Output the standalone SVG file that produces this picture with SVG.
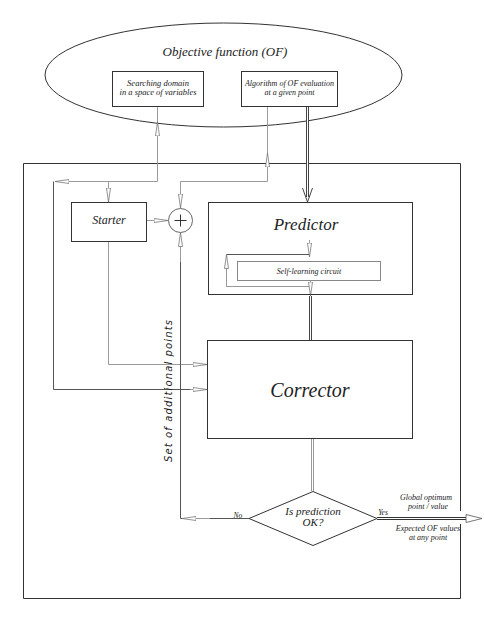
<svg xmlns="http://www.w3.org/2000/svg" width="484" height="618" viewBox="0 0 484 618">
  <defs>
    <style>
      .t { font-family: "Liberation Serif", "Times New Roman", serif; font-style: italic; fill: #222; text-anchor: middle; }
      .box { fill: #fff; stroke: #333; stroke-width: 1; }
      .g { fill: none; stroke: #9a9a9a; stroke-width: 1; }
      .d { fill: none; stroke: #555; stroke-width: 1; }
      .dbl { fill: none; stroke: #444; stroke-width: 3; }
      .dbli { fill: none; stroke: #fff; stroke-width: 1; }
    </style>
    <!-- slim open arrowhead used on the thin connectors -->
    <marker id="oa" viewBox="0 0 14 5" refX="14" refY="2.5" markerWidth="14" markerHeight="5" markerUnits="userSpaceOnUse" orient="auto">
      <path d="M0,0.5 L14,2.5 L0,4.5 Z" fill="#fff" stroke="#777" stroke-width="0.8"/>
    </marker>
  </defs>

  <rect width="484" height="618" fill="#fff"/>

  <!-- outer frame, open where the result leaves it -->
  <path d="M460.5,511 V163.5 H23.5 V598.5 H460.5 V524" fill="none" stroke="#333" stroke-width="1"/>

  <!-- objective function -->
  <g id="objective">
    <ellipse cx="223.5" cy="75" rx="178.5" ry="52" fill="#fff" stroke="#333" stroke-width="1"/>
    <text class="t" x="225" y="56" font-size="13">Objective function (OF)</text>
  </g>
  <g id="domain">
    <rect class="box" x="112.5" y="71.5" width="91" height="35"/>
    <text class="t" x="158" y="86" font-size="8.5">Searching domain</text>
    <text class="t" x="158" y="95" font-size="8.5">in a space of variables</text>
  </g>
  <g id="evaluation">
    <rect class="box" x="241.5" y="71.5" width="96" height="35"/>
    <text class="t" x="289.5" y="86" font-size="8">Algorithm of OF evaluation</text>
    <text class="t" x="289.5" y="95" font-size="8">at a given point</text>
  </g>

  <g id="connectors">
    <!-- domain <-> starter and corrector -->
    <path class="g" d="M157.5,181.5 V122" marker-end="url(#oa)"/>
    <path class="g" d="M157.5,122 V107"/>
    <path class="g" d="M157.5,181.5 H55" marker-end="url(#oa)"/>
    <path class="d" d="M53.5,181.5 V389.5 H190"/>
    <path class="g" d="M190,389.5 H207" marker-end="url(#oa)"/>
    <path class="g" d="M108.5,181.5 V202" marker-end="url(#oa)"/>

    <!-- evaluation <-> adder -->
    <path class="g" d="M267.5,107 V153"/>
    <path class="g" d="M267.5,181.5 V153" marker-end="url(#oa)"/>
    <path class="g" d="M267.5,181.5 H180.5 V208" marker-end="url(#oa)"/>

    <!-- starter -> adder -->
    <path class="g" d="M146,220.5 H168" marker-end="url(#oa)"/>

    <!-- starter -> corrector -->
    <path class="g" d="M108.5,241 V364.5 H190"/>
    <path class="g" d="M190,364.5 H207" marker-end="url(#oa)"/>

    <!-- No branch back up to the adder -->
    <path class="d" d="M249,518.5 H180.5 V262"/>
    <path class="g" d="M210,518.5 H182" marker-end="url(#oa)"/>
    <path class="g" d="M180.5,262 V232.5" marker-end="url(#oa)"/>

    <!-- evaluation => predictor (double line) -->
    <path class="dbl" d="M307.5,107 V197"/>
    <path class="dbli" d="M307.5,107 V197"/>
    <path d="M302.5,188 L307.5,202 L312.5,188" fill="none" stroke="#444" stroke-width="1"/>

    <!-- self-learning loop -->
    <path class="d" d="M309.5,254.5 H226.5 V286.5"/>
    <path class="g" d="M226.5,286.5 H309.5"/>
    <path class="g" d="M226.5,286.5 V254.5" marker-end="url(#oa)"/>
    <path class="g" d="M309.5,240 V257" marker-end="url(#oa)"/>

    <!-- predictor => corrector -->
    <path class="g" d="M310.5,281 V296" marker-end="url(#oa)"/>
    <path class="dbl" d="M310.5,296 V340"/>
    <path class="dbli" d="M310.5,296 V340"/>

    <!-- corrector => decision -->
    <path d="M312.5,439 V491" fill="none" stroke="#999" stroke-width="3"/>
    <path class="dbli" d="M312.5,439 V491"/>

    <!-- decision => result -->
    <path d="M377,518.5 H467" fill="none" stroke="#333" stroke-width="3"/>
    <path d="M377,518.5 H467" fill="none" stroke="#fff" stroke-width="1"/>
    <path d="M466,514.5 L482,518.5 L466,522.5 Z" fill="#fff" stroke="#555" stroke-width="0.8"/>
  </g>

  <g id="starter">
    <rect class="box" x="71.5" y="202.5" width="75" height="39"/>
    <text class="t" x="109" y="224" font-size="12">Starter</text>
  </g>

  <g id="adder">
    <circle cx="180.5" cy="220.5" r="12" fill="#fff" stroke="#666" stroke-width="1"/>
    <path d="M174.5,220.5 H186.5 M180.5,214.5 V226.5" stroke="#333" stroke-width="1"/>
  </g>

  <g id="predictor">
    <rect x="208.5" y="202.5" width="204" height="92" fill="none" stroke="#333" stroke-width="1"/>
    <text class="t" x="306" y="230" font-size="17">Predictor</text>
  </g>
  <g id="self-learning">
    <rect x="237.5" y="261.5" width="143" height="19" fill="#fff" stroke="#888" stroke-width="1"/>
    <text class="t" x="309" y="274" font-size="8">Self-learning circuit</text>
  </g>

  <g id="corrector">
    <rect class="box" x="207.5" y="340.5" width="205" height="98"/>
    <text class="t" x="310" y="397" font-size="20">Corrector</text>
  </g>

  <g id="decision">
    <path d="M249,518.5 L313,491.5 L377,518.5 L313,545.5 Z" fill="#fff" stroke="#333" stroke-width="1"/>
    <text class="t" x="313" y="515" font-size="11">Is prediction</text>
    <text class="t" x="313" y="526" font-size="11">OK?</text>
  </g>

  <!-- labels -->
  <text x="172" y="391" transform="rotate(-90 172 391)" font-family="'DejaVu Sans', 'Liberation Sans', sans-serif" font-style="italic" font-size="10" fill="#222" text-anchor="middle" textLength="142" lengthAdjust="spacing">Set of additional points</text>
  <text class="t" x="238" y="518" font-size="7.5">No</text>
  <text class="t" x="383" y="515" font-size="7.5">Yes</text>
  <text class="t" x="426" y="500" font-size="8">Global optimum</text>
  <text class="t" x="428" y="509" font-size="8">point / value</text>
  <text class="t" x="428" y="531" font-size="8">Expected  OF values</text>
  <text class="t" x="428" y="540" font-size="8">at any point</text>
</svg>
